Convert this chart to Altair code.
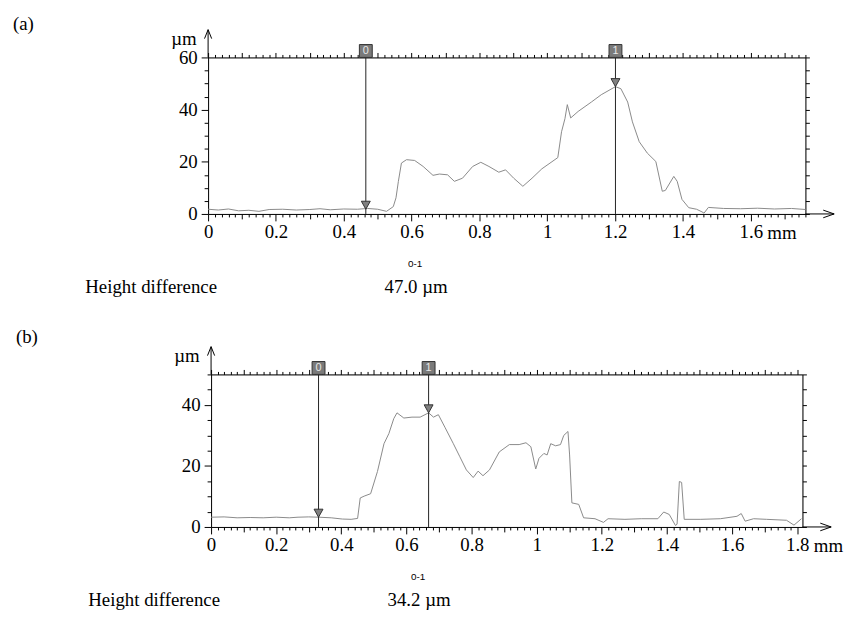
import json

import altair as alt
import pandas as pd

SERIF = "Liberation Serif, Times New Roman, Times, serif"
SANS = "Liberation Sans, Arial, sans-serif"

# -----------------------------
# PROFILE (a): position (mm) / height (um)
# -----------------------------
A_X = [0.000, 0.030, 0.060, 0.090, 0.120, 0.150, 0.180, 0.220, 0.260, 0.300,
       0.330, 0.360, 0.400, 0.440, 0.470, 0.500, 0.526, 0.546, 0.554, 0.561,
       0.570, 0.585, 0.609, 0.634, 0.663, 0.682, 0.706, 0.726, 0.750, 0.780,
       0.804, 0.828, 0.857, 0.877, 0.901, 0.928, 0.955, 0.984, 1.031, 1.042,
       1.052, 1.059, 1.069, 1.091, 1.130, 1.159, 1.201, 1.217, 1.237, 1.251,
       1.271, 1.295, 1.320, 1.339, 1.348, 1.373, 1.383, 1.397, 1.417, 1.440,
       1.456, 1.462, 1.475, 1.520, 1.570, 1.620, 1.670, 1.720, 1.761]
A_Y = [1.8, 1.5, 1.9, 1.2, 1.4, 1.0, 1.7, 1.8, 1.5, 1.7,
       2.0, 1.6, 1.9, 1.8, 2.1, 1.8, 1.0, 2.8, 6.2, 12.5,
       19.5, 20.8, 20.5, 18.2, 14.8, 15.3, 15.0, 12.5, 13.7, 18.2,
       19.8, 18.2, 16.0, 16.9, 13.7, 10.6, 13.7, 17.3, 21.6, 31.5,
       36.5, 41.9, 36.8, 39.3, 42.9, 45.7, 48.8, 48.0, 42.9, 35.3,
       27.7, 23.3, 20.1, 8.7, 9.0, 14.4, 12.5, 5.6, 2.4, 1.8,
       0.8, 0.3, 2.5, 2.1, 2.0, 2.2, 1.9, 2.1, 1.7]
A_CURSOR_X = [0.465, 1.201]
A_CURSOR_Y = [1.8, 48.8]

# -----------------------------
# PROFILE (b)
# -----------------------------
B_X = [0.000, 0.040, 0.080, 0.120, 0.160, 0.200, 0.240, 0.267, 0.300, 0.330,
       0.369, 0.403, 0.430, 0.450, 0.458, 0.470, 0.490, 0.511, 0.531, 0.546,
       0.561, 0.571, 0.592, 0.617, 0.642, 0.668, 0.683, 0.698, 0.718, 0.744,
       0.764, 0.784, 0.805, 0.820, 0.835, 0.855, 0.885, 0.916, 0.946, 0.967,
       0.982, 0.997, 1.007, 1.022, 1.032, 1.043, 1.058, 1.073, 1.083, 1.096,
       1.101, 1.108, 1.129, 1.144, 1.179, 1.205, 1.219, 1.271, 1.321, 1.372,
       1.390, 1.407, 1.426, 1.431, 1.438, 1.445, 1.453, 1.504, 1.564, 1.615,
       1.628, 1.640, 1.666, 1.706, 1.767, 1.790, 1.813]
B_Y = [3.2, 3.3, 3.0, 3.1, 3.0, 3.2, 3.0, 3.2, 3.3, 3.2,
       3.0, 2.6, 2.5, 2.8, 9.5, 10.1, 10.9, 18.2, 27.3, 30.6,
       35.5, 37.4, 35.7, 36.0, 36.0, 37.4, 36.0, 36.8, 32.7, 27.3,
       23.0, 18.7, 16.2, 18.3, 16.8, 18.7, 24.6, 27.0, 27.0, 27.6,
       26.3, 19.0, 22.5, 24.1, 23.6, 27.3, 26.6, 27.0, 30.0, 31.3,
       23.6, 7.9, 7.4, 3.0, 2.7, 1.5, 2.7, 2.5, 2.7, 2.7,
       4.9, 4.1, 0.5, 0.9, 14.9, 14.6, 2.5, 2.5, 2.7, 3.5,
       4.4, 1.9, 2.7, 2.5, 2.2, 0.6, 2.7]
B_CURSOR_X = [0.330, 0.668]
B_CURSOR_Y = [3.2, 37.4]

CURSOR_NAMES = ["0", "1"]

A_XLABELS = [0, 0.2, 0.4, 0.6, 0.8, 1, 1.2, 1.4, 1.6]
B_XLABELS = [0, 0.2, 0.4, 0.6, 0.8, 1, 1.2, 1.4, 1.6, 1.8]
A_YLABELS = [0, 20, 40, 60]
B_YLABELS = [0, 20, 40]

PANEL_TAGS = ["(a)", "(b)"]
ROW_TEXT = "Height difference"
PAIR_TEXT = "0-1"
DIFF_TEXT = ["47.0 \u00b5m", "34.2 \u00b5m"]

ONE = pd.DataFrame({"k": [0]})

UP_HEAD = "M-0.8,1L0,-1L0.8,1"
RIGHT_HEAD = "M-1,-0.7L1,0L-1,0.7"
DOWN_TRI = "M-1,-1.8L1,-1.8L0,0Z"


def text_at(txt, x, y, font=SERIF, size=19, align="left", color="black"):
    return alt.Chart(ONE).mark_text(
        text=txt, font=font, fontSize=size, align=align,
        baseline="alphabetic", color=color
    ).encode(x=alt.value(x), y=alt.value(y))


def panel(px, py, cx, cy, xmax, ymax, xlabels, ylabels, W, H, tag, diff,
          unit_x, tag_y):
    xs = alt.Scale(domain=[0, xmax], nice=False, zero=False)
    ys = alt.Scale(domain=[0, ymax], nice=False, zero=False)

    minor_x = [round(i * 0.02, 2) for i in range(int(xmax / 0.02 + 1e-9) + 1)]
    minor_y = list(range(0, ymax + 1, 5))

    x_major = f"indexof({json.dumps(xlabels)}, datum.value) >= 0"
    x_mid = "abs(datum.value * 10 - round(datum.value * 10)) < 0.000001"
    y_major = f"indexof({json.dumps(ylabels)}, datum.value) >= 0"

    bottom = alt.Axis(
        values=minor_x, grid=False,
        labelExpr=f"{x_major} ? format(datum.value, '~g') : ''",
        tickSize={"condition": [{"test": x_major, "value": 7},
                                {"test": x_mid, "value": 5}], "value": 3},
        tickColor="black", domainColor="black",
        labelFont=SERIF, labelFontSize=19, labelColor="black",
        labelBaseline="alphabetic", labelPadding=17, labelFlush=False,
        labelOverlap=False,
        title="mm", titleFont=SERIF, titleFontSize=19, titleFontWeight="normal",
        titleColor="black", titleAlign="left", titleBaseline="alphabetic",
        titleX=unit_x, titleY=24.3,
    )
    left = alt.Axis(
        values=minor_y, grid=False,
        labelExpr=f"{y_major} ? format(datum.value, 'd') : ''",
        tickSize={"condition": {"test": y_major, "value": 7}, "value": 4},
        tickColor="black", domainColor="black",
        labelFont=SERIF, labelFontSize=19, labelColor="black",
        labelPadding=4, labelOverlap=False, labelFlush=False,
        title="\u00b5m", titleFont=SERIF, titleFontSize=19,
        titleFontWeight="normal", titleColor="black", titleAngle=0,
        titleAlign="right", titleBaseline="alphabetic", titleX=-12, titleY=-13,
    )
    top = alt.Axis(
        orient="top", values=minor_x, grid=False, labels=False, title=None,
        tickSize={"condition": {"test": x_mid, "value": 5}, "value": 3},
        tickColor="black", domainColor="black",
    )
    right = alt.Axis(
        orient="right", values=minor_y, grid=False, labels=False, title=None,
        tickSize=4, tickColor="black", domainColor="black",
    )

    prof = pd.DataFrame({"x": px, "y": py})
    curs = pd.DataFrame({"x": cx, "y": cy, "name": CURSOR_NAMES})

    line = alt.Chart(prof).mark_line(color="#8a8a8a", strokeWidth=1).encode(
        x=alt.X("x:Q", scale=xs, axis=bottom),
        y=alt.Y("y:Q", scale=ys, axis=left),
    )
    rules = alt.Chart(curs).mark_rule(color="#222222", strokeWidth=1).encode(
        x=alt.X("x:Q", scale=xs, axis=None),
        y=alt.value(0), y2=alt.value(H),
    )
    tris = alt.Chart(curs).mark_point(
        shape=DOWN_TRI, size=81, filled=True, fill="#808080",
        stroke="#333333", strokeWidth=1, opacity=1
    ).encode(
        x=alt.X("x:Q", scale=xs, axis=top),
        y=alt.Y("y:Q", scale=ys, axis=right),
    )
    boxes = alt.Chart(curs).mark_point(
        shape="square", size=169, filled=True, fill="#7a7a7a",
        stroke="#333333", strokeWidth=1, opacity=1
    ).encode(x=alt.X("x:Q", scale=xs, axis=None), y=alt.value(-6.5))
    names = alt.Chart(curs).mark_text(
        font=SANS, fontSize=11, color="#e8e8e8", baseline="middle"
    ).encode(x=alt.X("x:Q", scale=xs, axis=None), y=alt.value(-6), text="name:N")

    y_ext = alt.Chart(ONE).mark_rule(color="black", strokeWidth=1).encode(
        x=alt.value(0), y=alt.value(0), y2=alt.value(-28))
    x_ext = alt.Chart(ONE).mark_rule(color="black", strokeWidth=1).encode(
        x=alt.value(W), x2=alt.value(W + 29), y=alt.value(H))
    up = alt.Chart(ONE).mark_point(
        shape=UP_HEAD, size=81, filled=False, color="black", strokeWidth=1,
        opacity=1).encode(x=alt.value(0), y=alt.value(-28 + 4.5))
    rt = alt.Chart(ONE).mark_point(
        shape=RIGHT_HEAD, size=121, filled=False, color="black", strokeWidth=1,
        opacity=1).encode(x=alt.value(W + 29 - 5.5), y=alt.value(H))

    notes = [
        text_at(tag, -197, tag_y),
        text_at(ROW_TEXT, -124, H + 79.5),
        text_at(PAIR_TEXT, 209, H + 53.7, font=SANS, size=10, align="center"),
        text_at(diff, 210, H + 79.5, align="center"),
    ]

    return alt.layer(
        line, rules, tris, boxes, names, y_ext, x_ext, up, rt, *notes
    ).resolve_axis(x="independent", y="independent").properties(
        width=W, height=H)


chart_a = panel(A_X, A_Y, A_CURSOR_X, A_CURSOR_Y, 1.761, 60, A_XLABELS,
                A_YLABELS, 603, 158, PANEL_TAGS[0], DIFF_TEXT[0], 564, -28)
chart_b = panel(B_X, B_Y, B_CURSOR_X, B_CURSOR_Y, 1.816, 50, B_XLABELS,
                B_YLABELS, 597, 154, PANEL_TAGS[1], DIFF_TEXT[1], 608, -32)

chart = alt.vconcat(
    chart_a, chart_b, spacing=162, center=True, bounds="flush",
    padding={"left": 4, "top": 3, "right": 5, "bottom": 5},
).configure_view(stroke="transparent").configure(background="white")

chart.save("out.html", embed_options={"renderer": "svg", "actions": False})
